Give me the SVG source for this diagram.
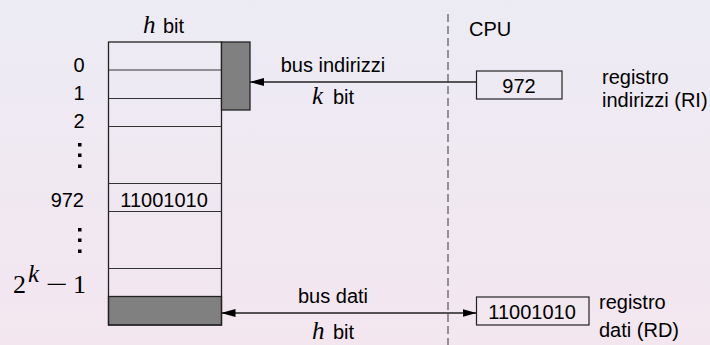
<svg xmlns="http://www.w3.org/2000/svg" width="710" height="345" viewBox="0 0 710 345">
<defs>
<linearGradient id="bg" x1="0" y1="0" x2="0" y2="1">
<stop offset="0" stop-color="#ecebf4"/>
<stop offset="1" stop-color="#f3e6ef"/>
</linearGradient>
<marker id="ah" viewBox="0 0 14 8" refX="14" refY="4" markerWidth="14" markerHeight="8" markerUnits="userSpaceOnUse" orient="auto-start-reverse">
<path d="M0,0 L14,4 L0,8 Z" fill="#000"/>
</marker>
<style>
.t{font-family:"Liberation Sans",Arial,sans-serif;font-size:20px;fill:#000}
.m{font-family:"Liberation Serif","DejaVu Serif",serif;font-style:italic;font-size:25px;fill:#000}
.mr{font-family:"Liberation Serif","DejaVu Serif",serif;font-size:26px;fill:#000}
.cell{fill:none;stroke:#222;stroke-width:1.3}
.gray{fill:#808080;stroke:#222;stroke-width:1.3}
.row{stroke:#333;stroke-width:1.2}
.box{fill:none;stroke:#222;stroke-width:1.2}
.bus{stroke:#222;stroke-width:1.3;fill:none}
.dot{fill:#000}
</style>
</defs>
<rect x="0" y="0" width="710" height="345" fill="url(#bg)"/>

<line x1="448" y1="14" x2="448" y2="345" stroke="#555" stroke-width="1.2" stroke-dasharray="8,4"/>
<text class="t" x="469" y="36">CPU</text>

<g id="memory">
<text class="m" x="143" y="33">h</text><text class="t" x="163" y="33">bit</text>
<rect class="gray" x="108.5" y="296.5" width="113" height="28.5"/>
<rect class="cell" x="108.5" y="42" width="113" height="283"/>
<line class="row" x1="108.5" y1="70" x2="221.5" y2="70"/>
<line class="row" x1="108.5" y1="98.5" x2="221.5" y2="98.5"/>
<line class="row" x1="108.5" y1="126.5" x2="221.5" y2="126.5"/>
<line class="row" x1="108.5" y1="183.5" x2="221.5" y2="183.5"/>
<line class="row" x1="108.5" y1="211.5" x2="221.5" y2="211.5"/>
<line class="row" x1="108.5" y1="268.5" x2="221.5" y2="268.5"/>
<text class="t" x="164" y="207" text-anchor="middle">11001010</text>
</g>

<g id="addr-decoder">
<rect class="gray" x="221.5" y="42" width="28.5" height="68"/>
</g>

<g id="labels">
<text class="t" x="79" y="72" text-anchor="middle">0</text>
<text class="t" x="79" y="100" text-anchor="middle">1</text>
<text class="t" x="79" y="128" text-anchor="middle">2</text>
<rect class="dot" x="78" y="143" width="3.5" height="3.5"/>
<rect class="dot" x="78" y="153.5" width="3.5" height="3.5"/>
<rect class="dot" x="78" y="164.5" width="3.5" height="3.5"/>
<text class="t" x="84" y="207" text-anchor="end">972</text>
<rect class="dot" x="78" y="228" width="3.5" height="3.5"/>
<rect class="dot" x="78" y="238.5" width="3.5" height="3.5"/>
<rect class="dot" x="78" y="249.5" width="3.5" height="3.5"/>
<text class="mr" x="13" y="293">2</text>
<text class="m" x="28" y="282" font-size="16">k</text>
<text class="mr" x="46" y="293" textLength="22" lengthAdjust="spacingAndGlyphs">−</text>
<text class="mr" x="73" y="293">1</text>
</g>

<g id="reg-RI">
<rect class="box" x="476.5" y="71" width="85.5" height="28"/>
<text class="t" x="519" y="93" text-anchor="middle">972</text>
<text class="t" x="602" y="84">registro</text>
<text class="t" x="602" y="107">indirizzi (RI)</text>
</g>

<g id="reg-RD">
<rect class="box" x="476.5" y="297" width="112.5" height="28"/>
<text class="t" x="532" y="319" text-anchor="middle">11001010</text>
<text class="t" x="599" y="309">registro</text>
<text class="t" x="599" y="337">dati (RD)</text>
</g>

<g id="connectors">
<line class="bus" x1="476.5" y1="82" x2="250" y2="82" marker-end="url(#ah)"/>
<text class="t" x="333" y="72" text-anchor="middle">bus indirizzi</text>
<text class="m" x="312" y="104">k</text><text class="t" x="333" y="104">bit</text>
<line class="bus" x1="221.5" y1="313" x2="476.5" y2="313" marker-start="url(#ah)" marker-end="url(#ah)"/>
<text class="t" x="333" y="303" text-anchor="middle">bus dati</text>
<text class="m" x="312" y="339">h</text><text class="t" x="333" y="339">bit</text>
</g>
</svg>
